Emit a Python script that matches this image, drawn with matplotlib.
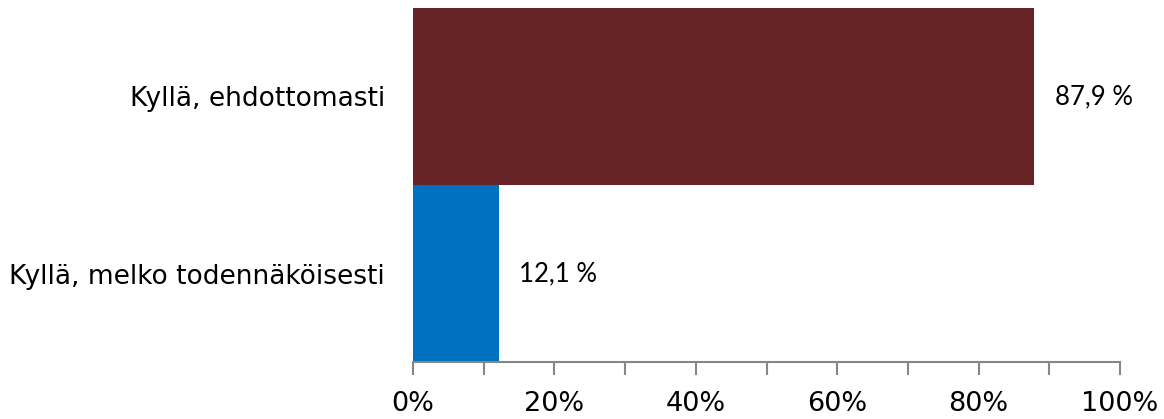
import matplotlib
matplotlib.use("Agg")
from matplotlib import pyplot as plt
from matplotlib.ticker import MultipleLocator, FuncFormatter

categories = ["Kyllä, melko todennäköisesti", "Kyllä, ehdottomasti"]
values = [12.1, 87.9]
colors = ["#0070C0", "#672426"]
tick_values = [0, 20, 40, 60, 80, 100]

fig = plt.figure(figsize=(11.64, 4.19), dpi=100)
ax = fig.add_axes([413 / 1164, 57 / 419, 707 / 1164, 354 / 419])

ax.barh(range(len(categories)), values, height=1.0, color=colors)

# etiketit palkkien perään
for i, v in enumerate(values):
    ax.annotate(f"{v:.1f} %".replace(".", ","), (v, i), xytext=(14.5, 0),
                textcoords="offset points", va="center", ha="left",
                fontsize=18.5, family="Lato", color="black")

ax.set_xlim(0, 100)
ax.set_ylim(-0.5, 1.5)
ax.set_xticks(tick_values)
ax.xaxis.set_minor_locator(MultipleLocator(10))
ax.xaxis.set_major_formatter(FuncFormatter(lambda x, p: f"{x:.0f}%"))
ax.set_yticks(range(len(categories)))
ax.set_yticklabels(categories)

ax.tick_params(axis="x", which="both", length=9, width=1.5, color="#868686",
               labelsize=19.5, pad=12)
ax.tick_params(axis="y", length=0, labelsize=19, pad=20)

for side in ["top", "right", "left"]:
    ax.spines[side].set_visible(False)
ax.spines["bottom"].set_color("#868686")
ax.spines["bottom"].set_linewidth(1.5)

fig.savefig("out.png", dpi=100)
plt.close()
